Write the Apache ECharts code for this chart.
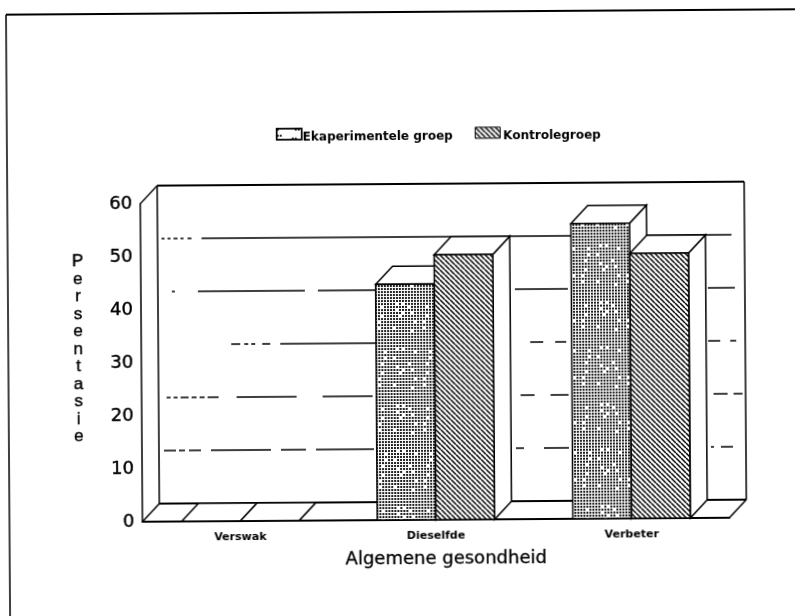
<!DOCTYPE html>
<html>
<head>
<meta charset="utf-8">
<style>
html,body{margin:0;padding:0;background:#fff;overflow:hidden}
#chart{width:797px;height:616px;transform:rotate(-0.39deg);transform-origin:398px 308px}
</style>
<script src="https://cdn.jsdelivr.net/npm/echarts@6/dist/echarts.min.js"></script>
</head>
<body>
<div id="chart"></div>
<script>
const categories = ['Verswak', 'Dieselfde', 'Verbeter'];
const seriesNames = ['Ekaperimentele groep', 'Kontrolegroep'];
const eksperimenteel = [0, 44.5, 55.7];
const kontrole = [0, 50, 50];
const gridValues = [10, 20, 30, 40, 50];
const yMin = 0, yMax = 60, yStep = 10;
const yTitle = 'Persentasie';
const INK = '#000';
const DEPTH_X = 17, DEPTH_Y = 18;

// broken, photocopied gridlines on the back wall: on/off dash runs
const gridDash = {
  50: [0, 4, 3, 3, 3, 3, 4, 3, 3, 4, 4, 10, 530, 99],
  40: [0, 14, 3, 23, 107, 13, 57, 140, 53, 140, 27, 99],
  30: [0, 73, 9, 4, 4, 3, 4, 7, 8, 10, 95, 155, 13, 12, 11, 142, 12, 10, 6, 99],
  20: [0, 8, 4, 3, 4, 3, 8, 3, 5, 3, 5, 3, 11, 18, 60, 26, 50, 148, 14, 16, 18, 145, 14, 6, 9, 99],
  10: [0, 5, 12, 3, 6, 4, 12, 10, 60, 10, 25, 10, 58, 142, 8, 20, 25, 142, 3, 7, 12, 99]
};

function dotTile(dense) {
  const n = 34, p = 3;
  const c = document.createElement('canvas');
  c.width = n * p; c.height = n * p;
  const g = c.getContext('2d');
  g.fillStyle = '#fff'; g.fillRect(0, 0, n * p, n * p);
  g.fillStyle = '#222';
  for (let j = 0; j < n; j++) for (let i = 0; i < n; i++) {
    const h = (i * i * 3 + j * j * 5 + i * j * 7 + i) % 19;
    if (dense ? h === 0 : h > 3) continue;
    g.fillRect(i * p, j * p, 2, 2);
  }
  return c;
}
function hatchTile() {
  const s = 5;
  const c = document.createElement('canvas');
  c.width = s; c.height = s;
  const g = c.getContext('2d');
  g.fillStyle = '#fff'; g.fillRect(0, 0, s, s);
  g.strokeStyle = '#000'; g.lineWidth = 1.5;
  [-s, 0, s].forEach(o => {
    g.beginPath(); g.moveTo(o, 0); g.lineTo(o + s, s); g.stroke();
  });
  return c;
}
const dotFill = { image: dotTile(true), repeat: 'repeat' };
const dotSwatch = { image: dotTile(false), repeat: 'repeat' };
const hatchFill = { image: hatchTile(), repeat: 'repeat' };

function barRenderer(slot, fill) {
  return function (params, api) {
    const idx = api.value(0), v = api.value(1);
    const band = api.size([1, 0])[0];
    const w = band * 0.3;
    const top = api.coord([idx, v]);
    const base = api.coord([idx, 0]);
    const x0 = top[0] + (slot - 1) * w, x1 = x0 + w;
    const y0 = top[1], yb = base[1];
    const line = { stroke: INK, lineWidth: 1.5 };
    return {
      type: 'group',
      children: [
        { type: 'polygon', shape: { points: [[x1, y0], [x1 + DEPTH_X, y0 - DEPTH_Y], [x1 + DEPTH_X, yb - DEPTH_Y], [x1, yb]] }, style: Object.assign({ fill: '#fff' }, line) },
        { type: 'polygon', shape: { points: [[x0, y0], [x0 + DEPTH_X, y0 - DEPTH_Y], [x1 + DEPTH_X, y0 - DEPTH_Y], [x1, y0]] }, style: Object.assign({ fill: '#fff' }, line) },
        { type: 'rect', shape: { x: x0, y: y0, width: w, height: yb - y0 }, style: Object.assign({ fill: fill }, line) }
      ]
    };
  };
}

function frameRenderer(params, api) {
  const c = params.coordSys;
  const L = c.x, R = c.x + c.width, T = c.y, B = c.y + c.height;
  const dx = DEPTH_X, dy = DEPTH_Y;
  const seg = (a, b, lw) => ({ type: 'line', shape: { x1: a[0], y1: a[1], x2: b[0], y2: b[1] }, style: { stroke: INK, lineWidth: lw } });
  const kids = [
    seg([L + dx, T - dy], [R + dx, T - dy], 1.8),
    seg([R + dx, T - dy], [R + dx, B - dy], 1.5),
    seg([L + dx, T - dy], [L + dx, B - dy], 1.5),
    seg([L + dx, B - dy], [R + dx, B - dy], 2),
    seg([L, T], [L + dx, T - dy], 1.3),
    seg([L, B], [L + dx, B - dy], 1.5),
    seg([R, B], [R + dx, B - dy], 1.5)
  ];
  gridValues.forEach(v => {
    const y = api.coord([0, v])[1] - dy;
    kids.push({
      type: 'line',
      shape: { x1: L + dx, y1: y, x2: R + dx, y2: y },
      style: { stroke: '#000', lineWidth: 1.3, lineDash: gridDash[v] }
    });
  });
  return { type: 'group', children: kids };
}

const legendText = { fontFamily: 'DejaVu Sans', fontWeight: 'bold', fontSize: 12, color: INK };
// swatch sits in the upper part of the symbol box, so it rides above the text's centre
const swatchIcon = 'path://M0,0H25V11H0ZM0,19L0,19';
const chart = echarts.init(document.getElementById('chart'), null, { renderer: 'canvas' });
chart.setOption({
  animation: false,
  backgroundColor: '#fff',
  grid: { left: 141, top: 202, width: 587, height: 318 },
  legend: {
    left: 272, top: 122,
    itemWidth: 25, itemHeight: 19, itemGap: 22,
    selectedMode: false,
    textStyle: legendText,
    data: [
      { name: seriesNames[0], icon: swatchIcon, itemStyle: { color: dotSwatch, borderColor: INK, borderWidth: 1.7 }, textStyle: Object.assign({ padding: [0, 0, 0, -4] }, legendText) },
      { name: seriesNames[1], icon: swatchIcon, itemStyle: { color: hatchFill, borderColor: INK, borderWidth: 1 }, textStyle: Object.assign({ padding: [0, 0, 0, -2] }, legendText) }
    ]
  },
  xAxis: {
    type: 'category',
    data: categories,
    axisTick: { show: false },
    axisLine: { lineStyle: { color: INK, width: 1.8 } },
    axisLabel: { margin: 11, fontFamily: 'DejaVu Sans', fontWeight: 'bold', fontSize: 11, color: INK },
    name: 'Algemene gesondheid',
    nameLocation: 'middle',
    nameGap: 30,
    nameTextStyle: { fontFamily: 'DejaVu Sans', fontSize: 18, color: INK, textBorderColor: INK, textBorderWidth: 0.3, padding: [0, 0, 0, 20] }
  },
  yAxis: {
    type: 'value',
    min: yMin, max: yMax, interval: yStep,
    splitLine: { show: false },
    axisTick: { show: false },
    axisLine: { show: true, lineStyle: { color: INK, width: 1.5 } },
    axisLabel: { margin: 8, fontFamily: 'DejaVu Sans', fontSize: 18, color: INK, textBorderColor: INK, textBorderWidth: 0.4 }
  },
  series: [
    { type: 'custom', name: 'raam', silent: true, z: 1, data: [[0, 0]], renderItem: frameRenderer, encode: { x: 0, y: 1 } },
    { type: 'custom', name: seriesNames[0], z: 2, clip: false, renderItem: barRenderer(0, dotFill), encode: { x: 0, y: 1 }, data: eksperimenteel.map((v, i) => [i, v]) },
    { type: 'custom', name: seriesNames[1], z: 3, clip: false, renderItem: barRenderer(1, hatchFill), encode: { x: 0, y: 1 }, data: kontrole.map((v, i) => [i, v]) }
  ],
  graphic: [
    { type: 'line', silent: true, shape: { x1: 8, y1: 12, x2: 810, y2: 12 }, style: { stroke: '#000', lineWidth: 1.8 } },
    { type: 'line', silent: true, shape: { x1: 8, y1: 12, x2: 8, y2: 630 }, style: { stroke: '#000', lineWidth: 1.5 } },
    { type: 'text', silent: true, x: 78, y: 347, style: { text: yTitle.split('').join('\n'), align: 'center', verticalAlign: 'middle', fontFamily: 'Liberation Sans', fontSize: 17, lineHeight: 17.5, fill: INK, stroke: INK, lineWidth: 0.4 } }
  ]
});
</script>
</body>
</html>
